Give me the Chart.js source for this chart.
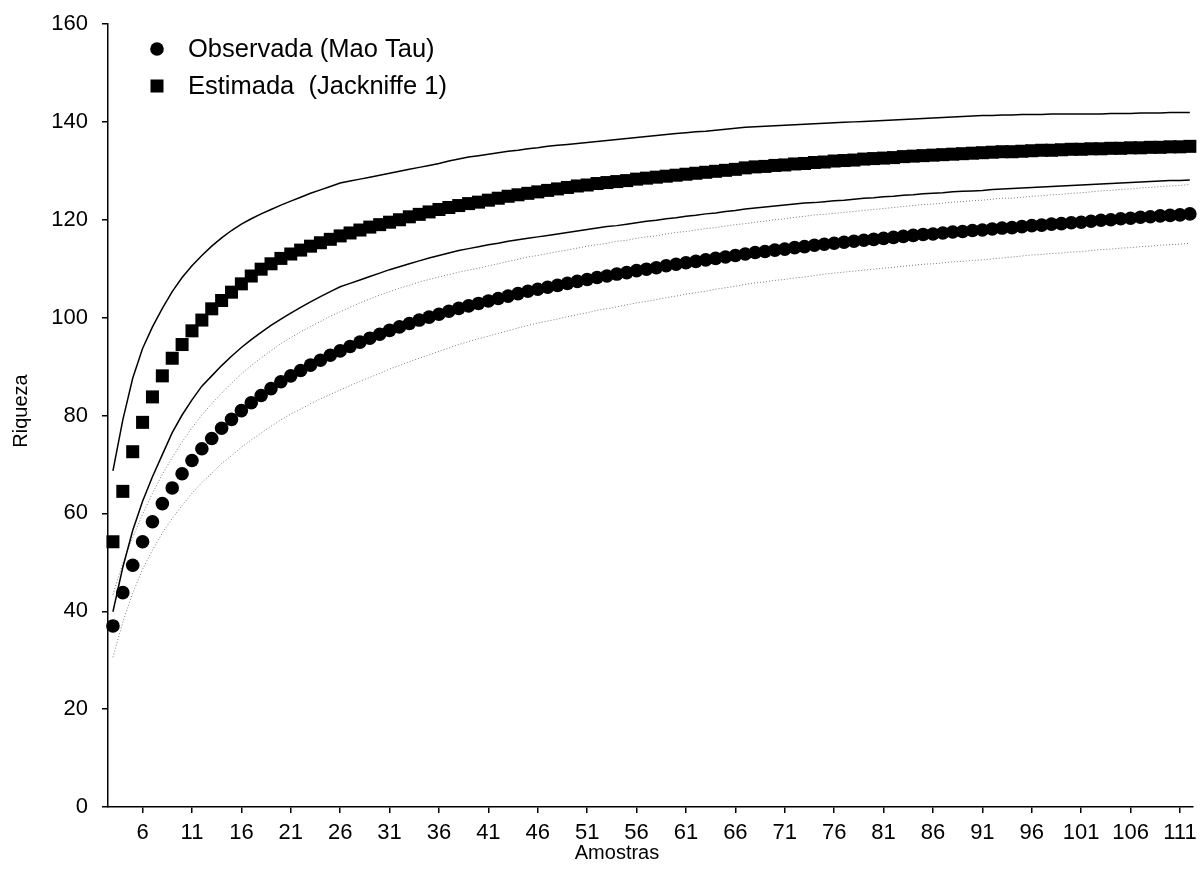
<!DOCTYPE html>
<html>
<head>
<meta charset="utf-8">
<title>Riqueza x Amostras</title>
<style>
  html, body { margin: 0; padding: 0; background: #fff; }
  #wrap { width: 1202px; height: 888px; }
</style>
<script src="https://cdn.jsdelivr.net/npm/chart.js@4.4.1/dist/chart.umd.min.js"></script>
</head>
<body>
<div id="wrap"><canvas id="c" width="1202" height="888"></canvas></div>
<script>
// Sample numbers along the x axis
const amostras = [
  3, 4, 5, 6, 7, 8, 9, 10, 11, 12, 13, 14, 15, 16, 17, 18, 19, 20, 21, 22,
  23, 24, 25, 26, 27, 28, 29, 30, 31, 32, 33, 34, 35, 36, 37, 38, 39, 40, 41, 42,
  43, 44, 45, 46, 47, 48, 49, 50, 51, 52, 53, 54, 55, 56, 57, 58, 59, 60, 61, 62,
  63, 64, 65, 66, 67, 68, 69, 70, 71, 72, 73, 74, 75, 76, 77, 78, 79, 80, 81, 82,
  83, 84, 85, 86, 87, 88, 89, 90, 91, 92, 93, 94, 95, 96, 97, 98, 99, 100, 101, 102,
  103, 104, 105, 106, 107, 108, 109, 110, 111, 112
];

// Observed richness (Mao Tau)
const observada = [
  37.0, 43.8, 49.4, 54.2, 58.3, 62.0, 65.2, 68.1, 70.8, 73.2, 75.3, 77.4, 79.2, 81.0, 82.6, 84.1, 85.5, 86.9, 88.1, 89.2,
  90.3, 91.3, 92.3, 93.2, 94.1, 95.0, 95.8, 96.6, 97.4, 98.1, 98.8, 99.5, 100.1, 100.7, 101.3, 101.9, 102.4, 102.9, 103.4, 103.9,
  104.4, 104.9, 105.4, 105.8, 106.2, 106.6, 107.0, 107.4, 107.8, 108.2, 108.5, 108.9, 109.2, 109.6, 109.9, 110.2, 110.6, 110.9, 111.2, 111.5,
  111.8, 112.1, 112.4, 112.7, 113.0, 113.3, 113.5, 113.8, 114.0, 114.3, 114.5, 114.8, 115.0, 115.2, 115.4, 115.6, 115.8, 116.0, 116.2, 116.4,
  116.6, 116.8, 117.0, 117.1, 117.3, 117.5, 117.6, 117.8, 117.9, 118.1, 118.3, 118.4, 118.6, 118.8, 118.9, 119.1, 119.2, 119.4, 119.5, 119.7,
  119.9, 120.0, 120.2, 120.3, 120.5, 120.6, 120.8, 120.9, 121.0, 121.2
];

// Mao Tau 95% bounds (dotted)
const observadaSup = [
  43.4, 49.8, 55.1, 59.8, 64.1, 68.0, 71.4, 74.6, 77.5, 80.1, 82.4, 84.6, 86.6, 88.5, 90.2, 91.8, 93.2, 94.7, 95.9, 97.1,
  98.2, 99.2, 100.3, 101.2, 102.1, 103.0, 103.8, 104.6, 105.3, 106.0, 106.6, 107.3, 107.8, 108.3, 108.8, 109.3, 109.7, 110.1, 110.6, 111.0,
  111.5, 111.9, 112.4, 112.7, 113.1, 113.5, 113.8, 114.2, 114.6, 114.9, 115.2, 115.6, 115.8, 116.2, 116.5, 116.7, 117.1, 117.4, 117.6, 117.9,
  118.2, 118.4, 118.7, 119.0, 119.2, 119.5, 119.7, 120.0, 120.2, 120.5, 120.7, 121.0, 121.1, 121.3, 121.5, 121.7, 121.9, 122.1, 122.3, 122.5,
  122.7, 122.9, 123.1, 123.2, 123.4, 123.6, 123.7, 123.9, 124.0, 124.2, 124.4, 124.4, 124.6, 124.8, 124.9, 125.1, 125.2, 125.4, 125.5, 125.7,
  125.9, 126.0, 126.2, 126.3, 126.5, 126.6, 126.8, 126.9, 127.0, 127.2
];
const observadaInf = [
  30.6, 37.8, 43.7, 48.6, 52.5, 56.0, 59.0, 61.6, 64.1, 66.3, 68.2, 70.2, 71.8, 73.5, 75.0, 76.4, 77.8, 79.1, 80.3, 81.3,
  82.4, 83.4, 84.3, 85.2, 86.1, 87.0, 87.8, 88.6, 89.5, 90.2, 91.0, 91.7, 92.4, 93.1, 93.8, 94.5, 95.1, 95.7, 96.2, 96.8,
  97.3, 97.9, 98.4, 98.9, 99.3, 99.7, 100.2, 100.6, 101.0, 101.5, 101.8, 102.2, 102.6, 103.0, 103.3, 103.7, 104.1, 104.4, 104.8, 105.1,
  105.4, 105.8, 106.1, 106.4, 106.8, 107.1, 107.3, 107.6, 107.8, 108.1, 108.3, 108.6, 108.9, 109.1, 109.3, 109.5, 109.7, 109.9, 110.1, 110.3,
  110.5, 110.7, 110.9, 111.0, 111.2, 111.4, 111.5, 111.7, 111.8, 112.0, 112.2, 112.4, 112.6, 112.8, 112.9, 113.1, 113.2, 113.4, 113.5, 113.7,
  113.9, 114.0, 114.2, 114.3, 114.5, 114.6, 114.8, 114.9, 115.0, 115.2
];

// Estimated richness (Jackknife 1)
const estimada = [
  54.2, 64.5, 72.6, 78.6, 83.8, 88.1, 91.7, 94.5, 97.3, 99.5, 101.8, 103.5, 105.2, 106.9, 108.5, 109.9, 111.0, 112.1, 113.0, 113.8,
  114.6, 115.3, 116.0, 116.7, 117.3, 117.9, 118.5, 119.0, 119.5, 120.0, 120.6, 121.1, 121.6, 122.1, 122.5, 122.9, 123.3, 123.6, 124.0, 124.4,
  124.8, 125.1, 125.4, 125.7, 126.0, 126.3, 126.6, 126.9, 127.1, 127.4, 127.6, 127.8, 128.0, 128.3, 128.5, 128.7, 128.9, 129.1, 129.3, 129.5,
  129.7, 129.9, 130.1, 130.3, 130.6, 130.8, 130.9, 131.1, 131.2, 131.4, 131.5, 131.7, 131.8, 132.0, 132.1, 132.2, 132.4, 132.5, 132.6, 132.7,
  132.9, 133.0, 133.1, 133.2, 133.3, 133.4, 133.5, 133.6, 133.7, 133.8, 133.9, 133.9, 134.0, 134.1, 134.2, 134.2, 134.3, 134.4, 134.4, 134.5,
  134.5, 134.6, 134.6, 134.7, 134.7, 134.8, 134.8, 134.9, 134.9, 135.0
];

// Jackknife 1 95% bounds (solid)
const estimadaSup = [
  68.7, 79.1, 87.6, 93.7, 98.1, 101.9, 105.3, 108.2, 110.6, 112.7, 114.6, 116.3, 117.8, 119.1, 120.2, 121.2, 122.1, 123.0, 123.8, 124.6,
  125.4, 126.1, 126.8, 127.5, 127.9, 128.3, 128.7, 129.1, 129.5, 129.9, 130.3, 130.7, 131.1, 131.5, 132.0, 132.4, 132.8, 133.1, 133.4, 133.7,
  134.0, 134.2, 134.5, 134.7, 135.0, 135.2, 135.4, 135.6, 135.8, 136.0, 136.2, 136.4, 136.6, 136.8, 137.0, 137.2, 137.4, 137.6, 137.8, 138.0,
  138.1, 138.3, 138.5, 138.7, 138.9, 139.0, 139.1, 139.2, 139.3, 139.4, 139.5, 139.6, 139.7, 139.8, 139.9, 140.0, 140.1, 140.2, 140.3, 140.4,
  140.5, 140.6, 140.7, 140.8, 140.9, 141.0, 141.1, 141.2, 141.3, 141.3, 141.4, 141.4, 141.5, 141.5, 141.5, 141.6, 141.6, 141.6, 141.6, 141.6,
  141.6, 141.7, 141.7, 141.7, 141.8, 141.8, 141.8, 141.9, 141.9, 141.9
];
const estimadaInf = [
  39.9, 49.0, 56.5, 62.5, 67.5, 72.0, 76.5, 80.1, 83.2, 86.0, 88.1, 90.2, 92.1, 93.9, 95.5, 97.0, 98.4, 99.7, 100.9, 102.1,
  103.2, 104.3, 105.3, 106.3, 107.0, 107.7, 108.4, 109.1, 109.8, 110.4, 111.0, 111.6, 112.2, 112.7, 113.2, 113.7, 114.1, 114.5, 114.9, 115.2,
  115.6, 115.9, 116.2, 116.5, 116.8, 117.1, 117.4, 117.7, 118.0, 118.3, 118.6, 118.8, 119.1, 119.4, 119.7, 119.9, 120.2, 120.4, 120.7, 120.9,
  121.2, 121.4, 121.7, 121.9, 122.2, 122.4, 122.6, 122.8, 123.0, 123.2, 123.4, 123.5, 123.7, 123.9, 124.0, 124.2, 124.4, 124.5, 124.7, 124.8,
  125.0, 125.1, 125.3, 125.4, 125.5, 125.7, 125.8, 125.9, 126.0, 126.2, 126.3, 126.4, 126.5, 126.6, 126.7, 126.8, 126.9, 127.0, 127.1, 127.2,
  127.3, 127.4, 127.5, 127.6, 127.7, 127.8, 127.9, 128.0, 128.0, 128.1
];

// Axis tick labels
const xTickValues = [6, 11, 16, 21, 26, 31, 36, 41, 46, 51, 56, 61, 66, 71, 76, 81, 86, 91, 96, 101, 106, 111];
const yTickValues = [0, 20, 40, 60, 80, 100, 120, 140, 160];

const legendLabels = ['Observada (Mao Tau)', 'Estimada  (Jackniffe 1)'];
const xTitle = 'Amostras';
const yTitle = 'Riqueza';

const FONT = '"Liberation Sans", Arial, Helvetica, sans-serif';

function pts(values) {
  return amostras.map((a, i) => ({ x: a, y: values[i] }));
}

function boundLine(values, dotted) {
  return {
    data: pts(values),
    borderColor: dotted ? '#7a7a7a' : '#000000',
    borderWidth: dotted ? 1 : 1.5,
    borderDash: dotted ? [1, 2] : [],
    pointRadius: 0,
    fill: false,
    tension: 0,
    clip: false,
    order: 5
  };
}

// Legend drawn inside the plot area, plus the axis titles
const overlayPlugin = {
  id: 'overlay',
  afterDraw(chart) {
    const ctx = chart.ctx;
    ctx.save();
    ctx.fillStyle = '#000';
    ctx.textBaseline = 'middle';
    ctx.textAlign = 'left';
    ctx.font = '25.5px ' + FONT;

    // circle marker
    ctx.beginPath();
    ctx.arc(157, 49, 6.8, 0, Math.PI * 2);
    ctx.fill();
    ctx.fillText(legendLabels[0], 188, 50);

    // square marker
    ctx.fillRect(150.5, 79.5, 13, 13);
    ctx.fillText(legendLabels[1], 188, 87);

    // axis titles
    ctx.font = '20px ' + FONT;
    ctx.textAlign = 'center';
    ctx.fillText(xTitle, 617, 853);
    ctx.translate(21, 411);
    ctx.rotate(-Math.PI / 2);
    ctx.fillText(yTitle, 0, 0);
    ctx.restore();
  }
};

new Chart(document.getElementById('c'), {
  type: 'line',
  data: {
    datasets: [
      {
        label: legendLabels[0],
        data: pts(observada),
        showLine: false,
        pointStyle: 'circle',
        pointRadius: 6.8,
        pointBackgroundColor: '#000',
        pointBorderColor: '#000',
        pointBorderWidth: 0,
        clip: false,
        order: 1
      },
      {
        label: legendLabels[1],
        data: pts(estimada),
        showLine: false,
        pointStyle: 'rect',
        pointRadius: 9.2,
        pointBackgroundColor: '#000',
        pointBorderColor: '#000',
        pointBorderWidth: 0,
        clip: false,
        order: 1
      },
      boundLine(estimadaSup, false),
      boundLine(estimadaInf, false),
      boundLine(observadaSup, true),
      boundLine(observadaInf, true)
    ]
  },
  options: {
    responsive: false,
    animation: false,
    events: [],
    layout: { padding: { left: 0, top: 24, right: 6, bottom: 0 } },
    plugins: {
      legend: { display: false },
      tooltip: { enabled: false },
      title: { display: false }
    },
    scales: {
      x: {
        type: 'linear',
        min: 2.5,
        max: 112.3,
        afterBuildTicks(scale) {
          scale.ticks = xTickValues.map(v => ({ value: v }));
        },
        afterFit(scale) {
          scale.height = 81;
          scale.paddingLeft = 0;
          scale.paddingRight = 0;
        },
        border: { display: true, color: '#000', width: 1.5 },
        grid: { drawOnChartArea: false, drawTicks: true, tickLength: 6, color: '#000', lineWidth: 1.5 },
        ticks: {
          autoSkip: false,
          maxRotation: 0,
          padding: 7,
          color: '#000',
          font: { family: FONT, size: 22 },
          callback: v => String(v)
        }
      },
      y: {
        type: 'linear',
        min: 0,
        max: 160,
        afterBuildTicks(scale) {
          scale.ticks = yTickValues.map(v => ({ value: v }));
        },
        afterFit(scale) {
          scale.width = 108;
          scale.paddingTop = 0;
          scale.paddingBottom = 0;
        },
        border: { display: true, color: '#000', width: 1.5 },
        grid: { drawOnChartArea: false, drawTicks: true, tickLength: 6, color: '#000', lineWidth: 1.5 },
        ticks: {
          padding: 14,
          color: '#000',
          font: { family: FONT, size: 22 },
          callback: v => String(v)
        }
      }
    }
  },
  plugins: [overlayPlugin]
});
</script>
</body>
</html>
